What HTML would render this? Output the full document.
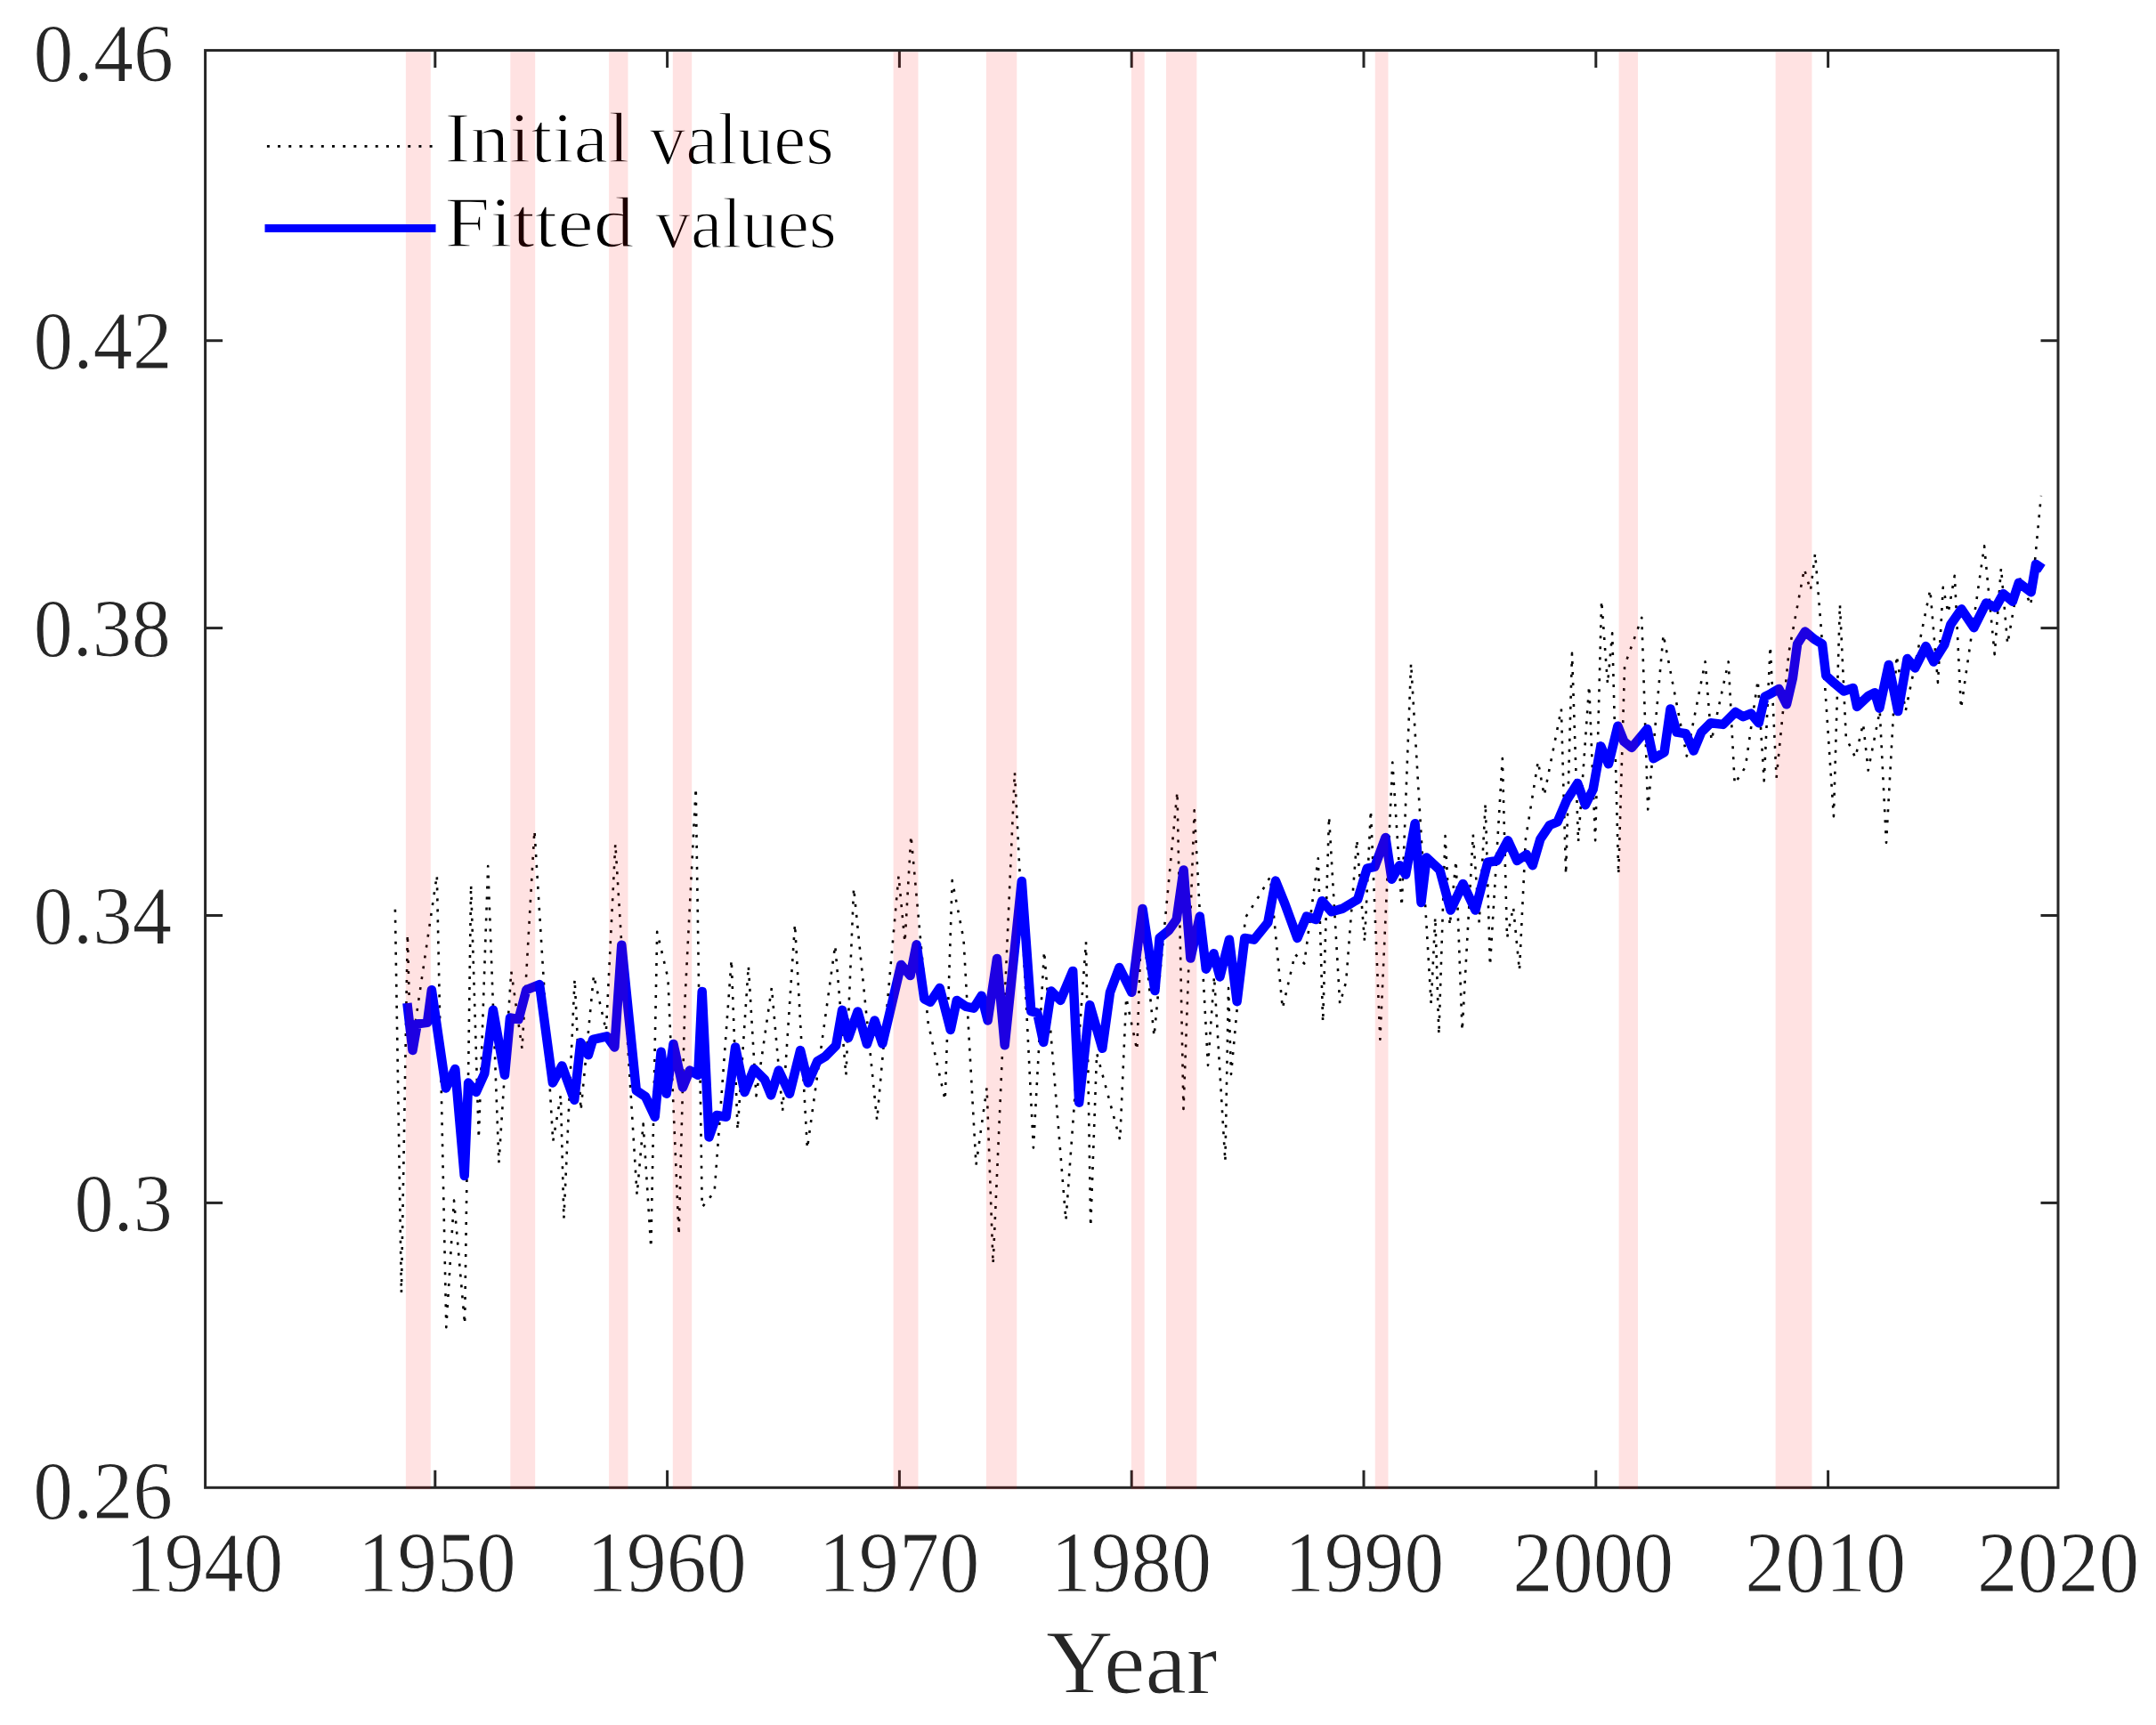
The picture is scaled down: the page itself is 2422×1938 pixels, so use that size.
<!DOCTYPE html>
<html><head><meta charset="utf-8"><title>Initial and fitted values</title>
<style>
html,body{margin:0;padding:0;background:#fff;}
body{width:2422px;height:1938px;overflow:hidden;}
svg{display:block;}
text{font-family:"Liberation Serif","DejaVu Serif",serif;}
</style></head><body>
<svg width="2422" height="1938" viewBox="0 0 2422 1938">
<rect width="2422" height="1938" fill="#fff"/>
<g fill="none" stroke="#000" stroke-width="2.6" stroke-dasharray="3 9" stroke-linejoin="round">
<polyline points="443.9,1021.7 450.9,1452.8 457.8,1049.5 461.3,1185.1 490.8,983.4 501.3,1491.1 510.0,1348.5 522.1,1487.6 529.1,993.9 537.8,1279.0 548.2,973.0 560.4,1306.8 574.3,1091.2 586.5,1178.2 600.4,933.0 610.8,1101.7 621.2,1282.5 629.9,1230.3 633.4,1369.4 645.6,1099.9 652.5,1247.7 667.0,1095.6 680.9,1158.2 691.3,947.8 715.6,1342.4 722.6,1262.5 731.3,1401.6 738.2,1046.9 750.4,1099.1 762.6,1387.6 769.5,1123.4 781.7,885.2 788.7,1356.3 802.6,1339.0 821.7,1078.2 828.6,1269.4 840.8,1085.1 849.5,1231.2 866.9,1109.5 879.1,1248.6 893.0,1038.2 906.9,1290.3 938.2,1062.1 950.4,1208.1 959.1,997.8 985.2,1258.6 1009.5,983.9 1016.5,1058.6 1023.4,938.7 1042.6,1149.0 1061.7,1236.0 1069.7,989.1 1082.5,1055.1 1096.5,1309.0 1108.6,1222.0 1115.6,1420.2 1139.9,867.4 1160.9,1289.4 1173.0,1068.6 1197.4,1371.1 1220.0,1058.2 1225.2,1378.1 1232.1,1183.3 1258.2,1280.7 1265.2,1120.8 1277.3,1179.9 1282.6,1023.4 1296.5,1164.2 1322.5,889.5 1329.5,1245.9 1341.7,910.4 1357.0,1197.0 1364.0,1097.0 1376.4,1305.0 1380.0,1110.0 1383.0,1207.0 1399.0,1031.0 1414.8,1006.0 1426.9,985.1 1440.8,1132.9 1454.8,1072.0 1465.2,1082.5 1480.8,964.3 1486.1,1148.5 1493.0,917.3 1505.2,1127.7 1512.1,1103.3 1524.3,943.4 1533.0,1058.1 1539.9,910.4 1550.4,1167.7 1564.3,856.5 1574.7,1018.2 1585.1,745.2 1607.7,1127.7 1612.3,1030.3 1616.4,1162.4 1623.5,939.0 1628.7,1039.8 1635.6,966.8 1642.6,1158.1 1654.8,937.3 1661.7,1036.4 1668.7,902.5 1673.9,1085.0 1687.8,852.1 1693.0,1053.7 1700.0,1019.0 1706.9,1090.3 1713.9,942.5 1727.8,855.5 1734.7,893.8 1753.9,796.4 1759.1,982.5 1766.0,733.9 1773.0,946.0 1785.2,770.4 1792.1,944.2 1799.1,674.7 1806.0,768.6 1811.2,711.3 1818.2,982.5 1825.1,747.8 1844.3,693.9 1851.2,909.4 1868.6,713.0 1894.8,849.4 1915.6,743.4 1922.6,832.1 1941.7,743.4 1948.7,880.7 1960.8,861.6 1974.7,764.3 1981.7,877.3 1988.7,726.0 1995.6,873.8 2009.5,733.0 2026.9,639.1 2033.9,663.4 2039.1,621.7 2046.0,708.6 2059.9,917.2 2066.9,679.1 2073.8,828.6 2084.3,851.2 2093.0,812.9 2098.7,865.5 2111.7,798.8 2119.0,946.7 2130.6,736.5 2140.7,798.8 2168.3,662.6 2177.0,767.0 2182.8,659.7 2188.6,688.7 2195.8,646.7 2203.0,795.9 2229.1,613.3 2240.7,735.1 2248.0,638.0 2255.2,723.5 2268.3,648.1 2281.3,680.0 2292.9,556.8"/>
</g>
<g fill="none" stroke="#0000ff" stroke-width="10.5" stroke-linejoin="round">
<polyline points="457.4,1127.0 463.5,1180.0 468.7,1150.4 480.0,1148.7 484.9,1112.2 500.9,1222.6 511.3,1200.9 521.7,1320.9 526.1,1216.5 534.8,1227.0 544.3,1206.1 553.9,1134.8 567.0,1207.8 573.0,1143.5 582.6,1145.2 591.3,1112.2 606.1,1106.1 620.9,1216.5 631.3,1197.4 645.2,1235.7 652.2,1171.3 660.9,1185.2 666.1,1167.8 681.7,1164.3 690.4,1176.5 698.3,1061.7 714.8,1225.2 725.2,1232.2 735.7,1254.8 742.6,1181.7 748.7,1228.7 756.5,1173.0 767.0,1221.7 774.8,1202.6 784.3,1207.8 788.7,1113.9 796.5,1277.4 805.2,1253.0 815.7,1254.8 826.1,1176.5 836.5,1227.0 847.0,1200.9 859.1,1213.0 866.1,1230.4 874.8,1202.6 887.0,1228.7 899.1,1180.0 907.8,1216.5 918.3,1192.2 927.0,1187.0 939.1,1174.8 946.1,1134.8 953.0,1166.1 963.5,1136.5 973.9,1173.0 982.6,1146.5 991.3,1172.6 1012.2,1083.9 1022.6,1096.1 1029.6,1061.3 1038.3,1122.2 1045.2,1125.7 1055.7,1110.0 1067.8,1157.0 1074.8,1123.9 1085.2,1130.9 1093.9,1132.6 1102.6,1118.7 1109.6,1146.5 1120.0,1077.0 1128.7,1174.3 1147.8,990.0 1158.3,1136.1 1165.2,1137.8 1172.2,1170.9 1180.9,1113.5 1191.3,1123.9 1205.2,1090.9 1212.2,1238.7 1224.3,1129.1 1238.3,1177.8 1247.0,1114.8 1257.4,1087.0 1271.3,1114.8 1283.5,1020.9 1297.4,1113.0 1302.6,1053.9 1313.0,1045.2 1321.7,1033.0 1329.6,977.4 1337.4,1076.5 1347.8,1029.6 1354.8,1088.7 1363.5,1071.3 1370.4,1097.4 1380.9,1055.7 1389.6,1125.2 1398.3,1053.9 1408.7,1055.7 1424.3,1036.5 1433.0,989.6 1443.5,1015.7 1457.4,1053.9 1467.8,1029.6 1478.3,1033.0 1485.2,1012.2 1495.7,1024.3 1507.8,1020.9 1525.2,1010.4 1535.7,975.7 1544.3,973.9 1556.5,940.9 1563.5,987.8 1572.2,972.2 1579.1,982.6 1589.6,925.2 1596.5,1013.9 1602.6,963.5 1617.4,977.4 1629.6,1022.6 1643.5,993.0 1657.4,1022.6 1671.3,968.7 1681.7,967.0 1693.9,944.3 1704.3,967.0 1714.8,960.0 1721.7,972.2 1730.4,942.6 1740.9,927.0 1749.6,923.5 1760.0,899.1 1772.2,880.0 1780.9,904.3 1789.6,887.0 1798.3,838.3 1807.0,858.3 1817.4,815.7 1824.3,833.0 1833.0,840.0 1850.4,819.1 1857.4,852.2 1869.6,845.2 1876.5,796.5 1883.5,822.6 1893.9,824.3 1902.6,843.5 1911.3,822.6 1921.7,812.2 1935.7,813.9 1949.6,800.0 1958.3,805.2 1967.0,801.7 1975.7,812.2 1982.6,782.6 1989.6,779.1 1998.3,773.9 2007.0,791.3 2013.9,761.7 2019.1,723.5 2027.8,709.6 2038.3,718.3 2047.0,723.5 2051.3,759.1 2060.9,767.8 2071.3,776.5 2081.7,773.0 2086.1,793.9 2099.1,781.7 2106.1,778.3 2111.3,795.7 2121.7,747.0 2132.2,799.1 2142.6,740.0 2151.3,750.4 2163.5,726.1 2172.2,743.5 2184.3,724.3 2191.3,701.7 2203.5,684.3 2217.4,705.2 2231.3,677.4 2241.7,682.6 2250.4,667.0 2260.9,675.7 2267.8,654.8 2281.7,665.2 2287.0,633.9 2294.8,639.1"/>
</g>
<g stroke="#262626" stroke-width="3.0" fill="none">
<rect x="230.6" y="56.6" width="2081.4" height="1614.7"/>
<line x1="488.8" y1="1671.3" x2="488.8" y2="1651.8"/>
<line x1="488.8" y1="56.6" x2="488.8" y2="76.1"/>
<line x1="749.6" y1="1671.3" x2="749.6" y2="1651.8"/>
<line x1="749.6" y1="56.6" x2="749.6" y2="76.1"/>
<line x1="1010.4" y1="1671.3" x2="1010.4" y2="1651.8"/>
<line x1="1010.4" y1="56.6" x2="1010.4" y2="76.1"/>
<line x1="1271.2" y1="1671.3" x2="1271.2" y2="1651.8"/>
<line x1="1271.2" y1="56.6" x2="1271.2" y2="76.1"/>
<line x1="1532.0" y1="1671.3" x2="1532.0" y2="1651.8"/>
<line x1="1532.0" y1="56.6" x2="1532.0" y2="76.1"/>
<line x1="1792.8" y1="1671.3" x2="1792.8" y2="1651.8"/>
<line x1="1792.8" y1="56.6" x2="1792.8" y2="76.1"/>
<line x1="2053.6" y1="1671.3" x2="2053.6" y2="1651.8"/>
<line x1="2053.6" y1="56.6" x2="2053.6" y2="76.1"/>
<line x1="230.6" y1="1351.4" x2="250.1" y2="1351.4"/>
<line x1="2312.0" y1="1351.4" x2="2292.5" y2="1351.4"/>
<line x1="230.6" y1="1028.5" x2="250.1" y2="1028.5"/>
<line x1="2312.0" y1="1028.5" x2="2292.5" y2="1028.5"/>
<line x1="230.6" y1="705.6" x2="250.1" y2="705.6"/>
<line x1="2312.0" y1="705.6" x2="2292.5" y2="705.6"/>
<line x1="230.6" y1="382.7" x2="250.1" y2="382.7"/>
<line x1="2312.0" y1="382.7" x2="2292.5" y2="382.7"/>
</g>
<text transform="matrix(1.1156 0 0 1.0315 499.55 182.00)" font-size="78" fill="#000" stroke="#fff" stroke-width="1.5">Initial</text>
<text transform="matrix(1.0379 0 0 1.0593 729.86 183.50)" font-size="78" fill="#000" stroke="#fff" stroke-width="1.5">values</text>
<text transform="matrix(1.1701 0 0 1.0241 499.39 277.00)" font-size="78" fill="#000" stroke="#fff" stroke-width="1.5">Fitted</text>
<text transform="matrix(1.0226 0 0 1.0426 736.08 278.00)" font-size="78" fill="#000" stroke="#fff" stroke-width="1.5">values</text>
<g fill="#ff0000" fill-opacity="0.115">
<rect x="455.9" y="58.4" width="27.9" height="1614.8"/>
<rect x="573.3" y="58.4" width="27.9" height="1614.8"/>
<rect x="684.1" y="58.4" width="21.4" height="1614.8"/>
<rect x="755.8" y="58.4" width="21.4" height="1614.8"/>
<rect x="1003.6" y="58.4" width="27.9" height="1614.8"/>
<rect x="1107.9" y="58.4" width="34.4" height="1614.8"/>
<rect x="1270.9" y="58.4" width="14.8" height="1614.8"/>
<rect x="1310.0" y="58.4" width="34.4" height="1614.8"/>
<rect x="1544.7" y="58.4" width="14.8" height="1614.8"/>
<rect x="1818.6" y="58.4" width="21.4" height="1614.8"/>
<rect x="1994.6" y="58.4" width="40.9" height="1614.8"/>
</g>
<text transform="matrix(0.9573 0 0 0.9871 37.57 90.81)" font-size="94" fill="#262626" stroke="#fff" stroke-width="1.0">0.46</text>
<text transform="matrix(0.9490 0 0 0.9919 37.60 413.91)" font-size="94" fill="#262626" stroke="#fff" stroke-width="1.0">0.42</text>
<text transform="matrix(0.9369 0 0 0.9855 37.65 736.71)" font-size="94" fill="#262626" stroke="#fff" stroke-width="1.0">0.38</text>
<text transform="matrix(0.9453 0 0 0.9919 37.62 1059.71)" font-size="94" fill="#262626" stroke="#fff" stroke-width="1.0">0.34</text>
<text transform="matrix(0.9394 0 0 0.9823 83.44 1383.02)" font-size="94" fill="#262626" stroke="#fff" stroke-width="1.0">0.3</text>
<text transform="matrix(0.9541 0 0 0.9984 37.18 1706.30)" font-size="94" fill="#262626" stroke="#fff" stroke-width="1.0">0.26</text>
<text transform="matrix(0.9463 0 0 1.0194 140.38 1787.58)" font-size="94" fill="#262626" stroke="#fff" stroke-width="1.0">1940</text>
<text transform="matrix(0.9446 0 0 1.0339 402.10 1788.07)" font-size="94" fill="#262626" stroke="#fff" stroke-width="1.0">1950</text>
<text transform="matrix(0.9571 0 0 1.0290 658.89 1787.97)" font-size="94" fill="#262626" stroke="#fff" stroke-width="1.0">1960</text>
<text transform="matrix(0.9611 0 0 1.0290 919.65 1787.97)" font-size="94" fill="#262626" stroke="#fff" stroke-width="1.0">1970</text>
<text transform="matrix(0.9606 0 0 1.0290 1180.55 1787.97)" font-size="94" fill="#262626" stroke="#fff" stroke-width="1.0">1980</text>
<text transform="matrix(0.9531 0 0 1.0290 1443.02 1787.97)" font-size="94" fill="#262626" stroke="#fff" stroke-width="1.0">1990</text>
<text transform="matrix(0.9628 0 0 1.0290 1699.35 1787.97)" font-size="94" fill="#262626" stroke="#fff" stroke-width="1.0">2000</text>
<text transform="matrix(0.9628 0 0 1.0290 1960.15 1787.97)" font-size="94" fill="#262626" stroke="#fff" stroke-width="1.0">2010</text>
<text transform="matrix(0.9694 0 0 1.0306 2221.02 1788.17)" font-size="94" fill="#262626" stroke="#fff" stroke-width="1.0">2020</text>
<text transform="matrix(1.0451 0 0 1.0106 1175.05 1901.89)" font-size="100" fill="#262626" stroke="#fff" stroke-width="1.0">Year</text>
<text transform="matrix(1.0451 0 0 1.0106 1175.05 1901.89)" font-size="100" fill="#262626" stroke="#fff" stroke-width="1.0">Year</text>
<line x1="299.9" y1="164.3" x2="488.5" y2="164.3" stroke="#000" stroke-width="2.8" stroke-dasharray="3 9.18"/>
<line x1="297.5" y1="256.5" x2="489.5" y2="256.5" stroke="#0000ff" stroke-width="9.2"/>
</svg>
</body></html>
